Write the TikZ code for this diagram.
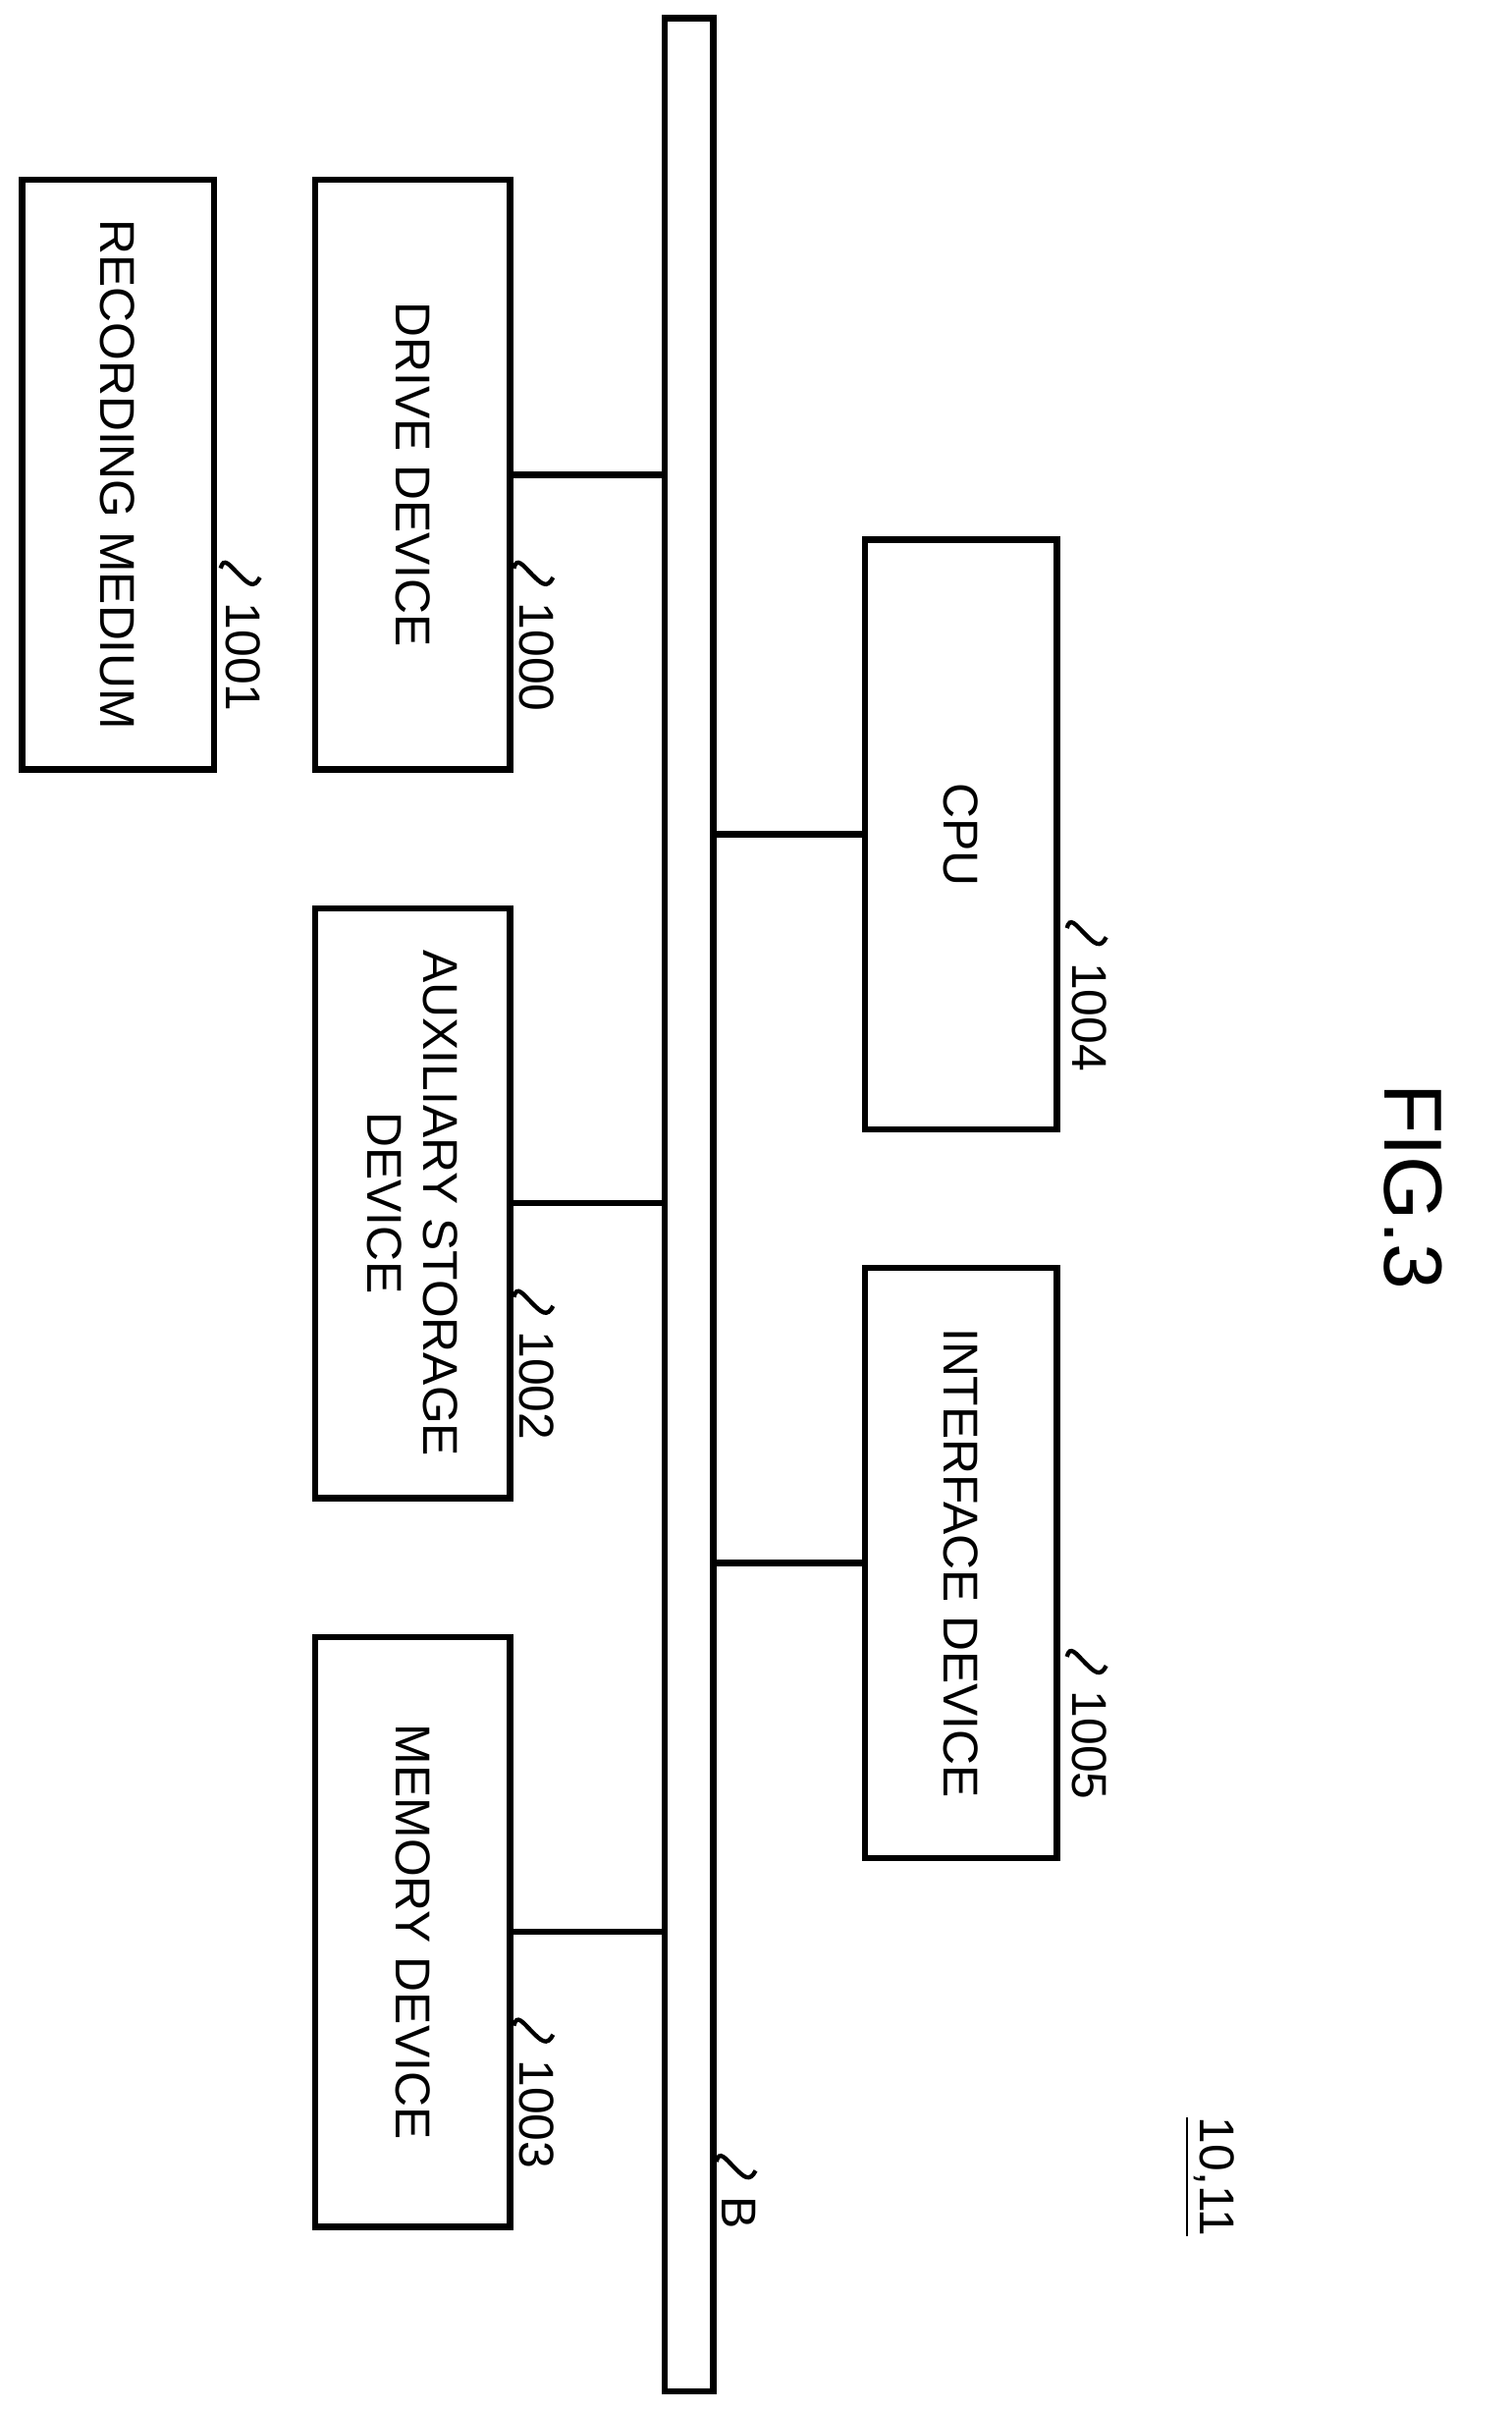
\documentclass[tikz,border=0pt]{standalone}
\usepackage{fontspec}
\setmainfont{Liberation Sans}
\usetikzlibrary{positioning,calc}
\tikzset{
    block/.style = {draw, line width=1.2pt, rectangle, minimum width=1.28cm,
        minimum height=3.9cm, inner sep=0},
    txt/.style = {rotate=-90, align=center, font=\fontsize{9.2}{10.5}\selectfont},
    link/.style = {draw, line width=1.2pt},
    tag/.style = {rotate=-90, anchor=west, inner sep=0pt, font=\fontsize{9.2}{10.5}\selectfont},
    squig/.style = {draw, line width=0.8pt}
}
\begin{document}
\begin{tikzpicture}[x=0.01cm, y=-0.01cm]
    \useasboundingbox (0,0) rectangle (1000,1595);
    % bus
    \node [draw, line width=1.2pt, minimum width=0.32cm, minimum height=15.69cm, inner sep=0] (bus) at (456,797) {};
    % blocks
    \node [block, minimum width=1.27cm] (rec) at (78,314) {};
    \node [block, minimum width=1.29cm] (drv) at (273,314) {};
    \node [block, minimum width=1.29cm] (aux) at (273,796) {};
    \node [block, minimum width=1.29cm] (mem) at (273,1278) {};
    \node [block, minimum width=1.27cm] (cpu) at (636,552) {};
    \node [block, minimum width=1.27cm] (ifc) at (636,1034) {};
    \node [txt] at (rec) {RECORDING MEDIUM};
    \node [txt] at (drv) {DRIVE DEVICE};
    \node [txt] at (aux) {AUXILIARY STORAGE\\DEVICE};
    \node [txt] at (mem) {MEMORY DEVICE};
    \node [txt] at (cpu) {CPU};
    \node [txt] at (ifc) {INTERFACE DEVICE};
    % connections
    \draw [link] (drv.east) -- (drv.east -| bus.west);
    \draw [link] (aux.east) -- (aux.east -| bus.west);
    \draw [link] (mem.east) -- (mem.east -| bus.west);
    \draw [link] (cpu.west) -- (cpu.west -| bus.east);
    \draw [link] (ifc.west) -- (ifc.west -| bus.east);
    % reference numerals
    \coordinate (t1001) at (146,376);
    \coordinate (t1000) at (340,376);
    \coordinate (t1002) at (340,858);
    \coordinate (t1003) at (340,1340);
    \coordinate (t1004) at (706,614);
    \coordinate (t1005) at (706,1096);
    \coordinate (tB) at (474,1430);
    \foreach \n in {1001,1000,1002,1003,1004,1005,B} {
        \draw [squig] (t\n) .. controls +(2,-8) and +(-6,-6) .. ++(12,4) .. controls +(6,6) and +(-4,8) .. ++(14,2);
        \node [tag] at ($(t\n)+(15,22)$) {\n};
    }
    \node [rotate=-90, inner sep=1pt, font=\fontsize{9.2}{10.5}\selectfont] (sys) at (800,1440) {\underline{10,11}};
    \node [rotate=-90, font=\fontsize{15.5}{18}\selectfont] (fig) at (935,785) {FIG.3};
\end{tikzpicture}
\end{document}
